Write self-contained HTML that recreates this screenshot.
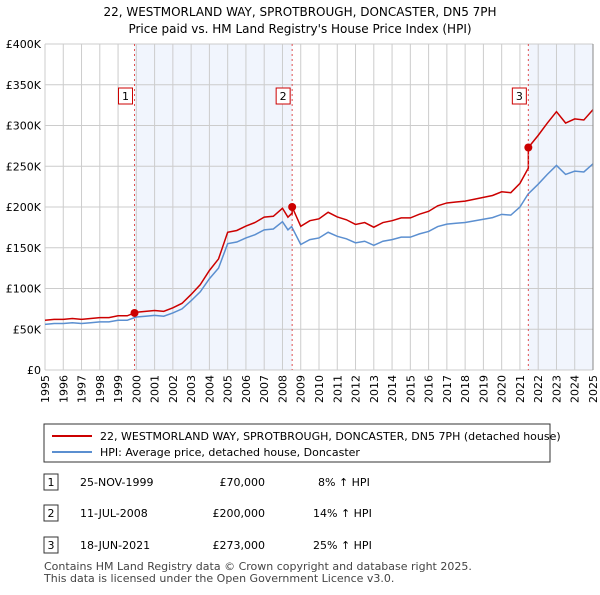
<!DOCTYPE html>
<html><head><meta charset="utf-8"><style>
body{margin:0;background:#fff;font-family:"Liberation Sans","DejaVu Sans",sans-serif;}
svg text{font-family:"DejaVu Sans","Liberation Sans",sans-serif;}
</style></head><body>
<svg width="600" height="590" xmlns="http://www.w3.org/2000/svg" id="chart">
<text x="300" y="16" text-anchor="middle" font-size="12">22, WESTMORLAND WAY, SPROTBROUGH, DONCASTER, DN5 7PH</text>
<text x="300" y="33" text-anchor="middle" font-size="12">Price paid vs. HM Land Registry's House Price Index (HPI)</text>
<g id="plot"></g>
<g>
<rect x="44" y="424" width="506" height="38" fill="#fff" stroke="#333" stroke-width="1"/>
<line x1="52" y1="436" x2="92" y2="436" stroke="#cc0000" stroke-width="2"/>
<text x="100" y="440" font-size="11">22, WESTMORLAND WAY, SPROTBROUGH, DONCASTER, DN5 7PH (detached house)</text>
<line x1="52" y1="452" x2="92" y2="452" stroke="#5b8fd0" stroke-width="2"/>
<text x="100" y="456" font-size="11">HPI: Average price, detached house, Doncaster</text>
</g>
<g font-size="11">
<rect x="44" y="474" width="14" height="16" fill="#fff" stroke="#333"/><text x="51" y="486" text-anchor="middle">1</text>
<text x="80" y="486">25-NOV-1999</text><text x="265" y="486" text-anchor="end">£70,000</text><text x="318" y="486">8% ↑ HPI</text>
<rect x="44" y="505" width="14" height="16" fill="#fff" stroke="#333"/><text x="51" y="517" text-anchor="middle">2</text>
<text x="80" y="517">11-JUL-2008</text><text x="265" y="517" text-anchor="end">£200,000</text><text x="313" y="517">14% ↑ HPI</text>
<rect x="44" y="537" width="14" height="16" fill="#fff" stroke="#333"/><text x="51" y="549" text-anchor="middle">3</text>
<text x="80" y="549">18-JUN-2021</text><text x="265" y="549" text-anchor="end">£273,000</text><text x="313" y="549">25% ↑ HPI</text>
</g>
<text x="44" y="570" font-size="11" fill="#444">Contains HM Land Registry data © Crown copyright and database right 2025.</text>
<text x="44" y="582" font-size="11" fill="#444">This data is licensed under the Open Government Licence v3.0.</text>
</svg>
<script>
const hpiYears=[1995,1995.5,1996,1996.5,1997,1997.5,1998,1998.5,1999,1999.5,2000,2000.5,2001,2001.5,2002,2002.5,2003,2003.5,2004,2004.5,2005,2005.5,2006,2006.5,2007,2007.5,2008,2008.3,2008.5,2009,2009.5,2010,2010.5,2011,2011.5,2012,2012.5,2013,2013.5,2014,2014.5,2015,2015.5,2016,2016.5,2017,2017.5,2018,2018.5,2019,2019.5,2020,2020.5,2021,2021.45,2022,2022.5,2023,2023.5,2024,2024.5,2025];
const hpiValues=[56,57,57,58,57,58,59,59,61,61,65,66,67,66,70,75,85,96,112,125,155,157,162,166,172,173,182,172,176,154,160,162,169,164,161,156,158,153,158,160,163,163,167,170,176,179,180,181,183,185,187,191,190,200,216,228,240,251,240,244,243,253];
const saleYears=[1999.9,2008.53,2021.46];
const salePrices=[70,200,273];
const saleLabels=["1","2","3"];
const yTicks=[0,50,100,150,200,250,300,350,400];
const yTickLabels=["£0","£50K","£100K","£150K","£200K","£250K","£300K","£350K","£400K"];
const xTicks=[1995,1996,1997,1998,1999,2000,2001,2002,2003,2004,2005,2006,2007,2008,2009,2010,2011,2012,2013,2014,2015,2016,2017,2018,2019,2020,2021,2022,2023,2024,2025];
const NS="http://www.w3.org/2000/svg";
const X0=45,X1=593,Y0=370,Y1=44;
const xs=y=>X0+(y-1995)/30*(X1-X0);
const ys=v=>Y0-v/400*(Y0-Y1);
const g=document.getElementById('plot');
function mk(t,a){const e=document.createElementNS(NS,t);for(const k in a)e.setAttribute(k,a[k]);g.appendChild(e);return e;}
function hpiAt(t){for(let i=1;i<hpiYears.length;i++){if(t<=hpiYears[i]){const f=(t-hpiYears[i-1])/(hpiYears[i]-hpiYears[i-1]);return hpiValues[i-1]+f*(hpiValues[i]-hpiValues[i-1]);}}return hpiValues[hpiValues.length-1];}
// shading
[[saleYears[0],saleYears[1]],[saleYears[2],2025]].forEach((p,i)=>{
const r=mk('rect',{x:xs(p[0]),y:Y1,width:xs(p[1])-xs(p[0]),height:Y0-Y1,fill:'#eef2fc',opacity:0.8});


});
xTicks.forEach(t=>{
const l=mk('line',{x1:xs(t),x2:xs(t),y1:Y1,y2:Y0,stroke:'#cccccc','stroke-width':1});


const tx=mk('text',{x:0,y:0,'font-size':11,'text-anchor':'end',transform:`translate(${xs(t)+4},${Y0+5}) rotate(-90)`});
tx.textContent=t;


});
yTicks.forEach((v,i)=>{
const l=mk('line',{x1:X0,x2:X1,y1:ys(v),y2:ys(v),stroke:'#cccccc','stroke-width':1});


const tx=mk('text',{x:X0-4,y:ys(v)+4,'font-size':11,'text-anchor':'end'});
tx.textContent=yTickLabels[i];


});
// HPI line
const hp=mk('polyline',{points:hpiYears.map((t,i)=>xs(t)+','+ys(hpiValues[i])).join(' '),fill:'none',stroke:'#5b8fd0','stroke-width':1.5});


// property line: HPI scaled by last sale ratio
const factors=saleYears.map((t,i)=>salePrices[i]/hpiAt(t));
function fac(t){let f=factors[0];for(let i=0;i<saleYears.length;i++)if(t>=saleYears[i])f=factors[i];return f;}
const pts=[];
const allT=hpiYears.concat(saleYears).sort((a,b)=>a-b);
allT.forEach(t=>{
saleYears.forEach((s,i)=>{if(t===s&&i>0)pts.push(xs(s)+','+ys(hpiAt(s)*factors[i-1]));});
pts.push(xs(t)+','+ys(hpiAt(t)*fac(t)));
});
const pl=mk('polyline',{points:pts.join(' '),fill:'none',stroke:'#cc0000','stroke-width':1.5});


saleYears.forEach((s,i)=>{
const l=mk('line',{x1:xs(s),x2:xs(s),y1:Y1,y2:Y0,stroke:'#e05050','stroke-width':1,'stroke-dasharray':'2,3'});


const b=mk('rect',{x:xs(s)-16,y:88,width:14,height:16,fill:'#fff',stroke:'#cc0000'});


const tx=mk('text',{x:xs(s)-9,y:100,'font-size':11,'text-anchor':'middle'});
tx.textContent=saleLabels[i];


const c=mk('circle',{cx:xs(s),cy:ys(salePrices[i]),r:4,fill:'#cc0000'});


});
const ax=mk('line',{x1:X1,x2:X1,y1:Y1,y2:Y0,stroke:'#888','stroke-width':1});


</script>
</body></html>
